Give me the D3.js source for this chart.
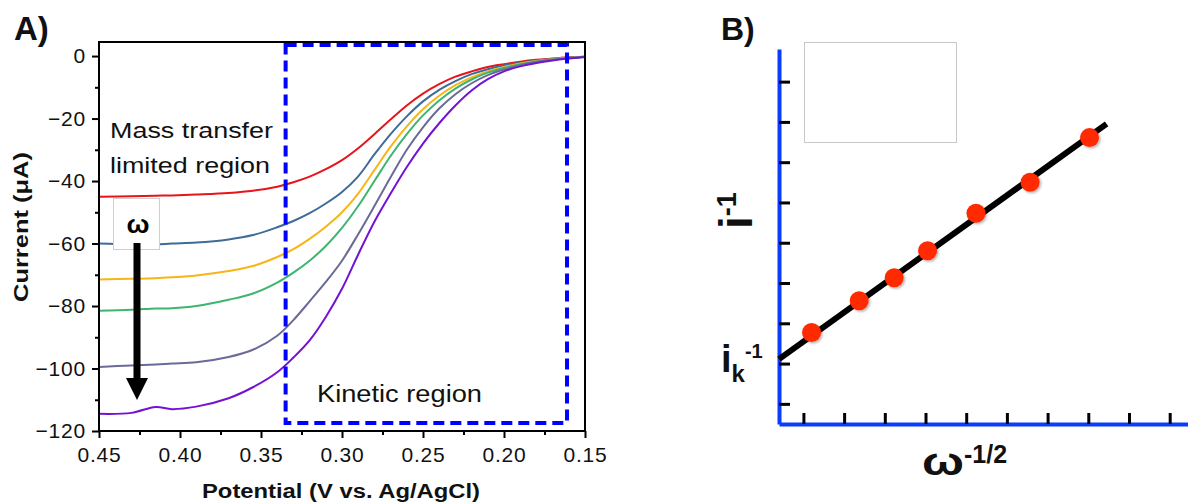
<!DOCTYPE html>
<html>
<head>
<meta charset="utf-8">
<script src="https://cdn.jsdelivr.net/npm/d3@7"></script>
<style>
  body { margin: 0; background: #fff; }
  text { font-family: "Liberation Sans", Arial, sans-serif; }
</style>
</head>
<body>
<svg id="chart" width="1188" height="504"></svg>
<script>
'use strict';

// Panel A: linear sweep voltammograms at increasing rotation rate
var potentials = [0.45, 0.43, 0.415, 0.405, 0.39, 0.37, 0.355, 0.34, 0.33, 0.32, 0.31, 0.30, 0.29,
  0.28, 0.27, 0.26, 0.25, 0.24, 0.23, 0.22, 0.21, 0.20, 0.19, 0.18, 0.17, 0.16, 0.15];

var currentRed = [-45, -44.9, -44.7, -44.6, -44.3, -43.8, -43.1, -41.8, -40.4, -38.6, -36.2, -33.3, -29.5,
  -25, -20.3, -15.8, -12, -9, -6.6, -4.9, -3.5, -2.6, -1.8, -1.2, -0.8, -0.4, -0.2];
var currentBlue = [-60, -60.2, -60.3, -60, -59.7, -58.7, -57.3, -54.8, -52.8, -50.3, -47.2, -43.5, -38.5,
  -31.5, -25, -19.3, -14.5, -10.8, -8, -5.8, -4.2, -3, -2.1, -1.4, -0.9, -0.5, -0.2];
var currentYellow = [-71.5, -71.3, -71.1, -70.8, -70.2, -68.8, -67.2, -64.3, -61.8, -58.5, -54.6, -50, -44,
  -36.5, -29, -22.5, -17, -12.7, -9.3, -6.8, -4.9, -3.5, -2.4, -1.6, -1, -0.6, -0.2];
var currentGreen = [-81.5, -81.2, -80.8, -80.7, -80, -78, -76, -72.5, -69.3, -65.5, -60.8, -55, -48,
  -40, -32, -25, -19, -14.2, -10.4, -7.5, -5.3, -3.8, -2.6, -1.7, -1.1, -0.6, -0.2];
var currentGray = [-99.5, -99, -98.7, -98.4, -98, -96.3, -94, -89.5, -84.5, -78.5, -72.3, -65.5, -57,
  -48, -38.8, -30, -22.8, -16.8, -12.2, -8.7, -6.1, -4.3, -2.9, -1.9, -1.2, -0.7, -0.3];
var currentPurple = [-114.5, -114.2, -112.3, -113, -112.2, -109.5, -106, -101.2, -96.5, -91, -83.5, -74.5, -63.5,
  -53, -44, -35.5, -28, -21.5, -15.8, -11, -7.4, -4.9, -3.3, -2.2, -1.4, -0.8, -0.3];

var seriesColors = ['#e8141c', '#3e6b97', '#f7b519', '#3fb46e', '#6a6a98', '#7412d4'];

var yMajorTicks = [0, -20, -40, -60, -80, -100, -120];
var yMinorTicks = [-10, -30, -50, -70, -90, -110];
var xMajorTicks = [0.45, 0.40, 0.35, 0.30, 0.25, 0.20, 0.15];
var xMinorTicks = [0.425, 0.375, 0.325, 0.275, 0.225, 0.175];

// kinetic region box: [potential from, potential to, current top, current bottom]
var kineticRegion = [0.3348, 0.1611, 3.55, -117.4];

// Panel B: Koutecky-Levich plot (arbitrary units)
var omegaInvSqrt = [0.2, 1.37, 2.23, 3.05, 4.24, 5.57, 7.03];
var inverseCurrent = [1.77, 2.56, 3.13, 3.80, 4.73, 5.50, 6.61];
var fitLineX = [-0.6, 7.45];
var fitLineY = [1.11, 6.95];
var bTicksX = [0, 1, 2, 3, 4, 5, 6, 7, 8, 9];
var bTicksY = [0, 1, 2, 3, 4, 5, 6, 7, 8];

var svg = d3.select('#chart');
svg.append('rect').attr('width', 1188).attr('height', 504).attr('fill', '#fff');

var defs = svg.append('defs');
defs.append('clipPath').attr('id', 'clipA')
  .append('rect').attr('x', 99).attr('y', 42).attr('width', 486).attr('height', 389);
defs.append('filter').attr('id', 'dotShadow')
  .attr('x', '-50%').attr('y', '-50%').attr('width', '200%').attr('height', '200%')
  .append('feDropShadow')
  .attr('dx', 1.5).attr('dy', 1.5).attr('stdDeviation', 1)
  .attr('flood-color', '#000').attr('flood-opacity', 0.3);

// ---------- Panel A ----------
var ax = d3.scaleLinear().domain([0.45, 0.15]).range([99, 585]);
var ay = d3.scaleLinear().domain([-120, 4.5]).range([431, 42]);

var panelA = svg.append('g');

function styleAxis(g) {
  g.select('.domain').remove();
  g.selectAll('line').attr('stroke', '#000').attr('stroke-width', 2);
  g.selectAll('text')
    .attr('fill', '#111')
    .attr('font-size', 21)
    .attr('letter-spacing', 0.8)
    .attr('font-family', '"Liberation Sans", Arial, sans-serif');
}

panelA.append('g')
  .attr('transform', 'translate(99,0)')
  .call(d3.axisLeft(ay).tickValues(yMajorTicks).tickSize(7).tickPadding(6).tickFormat(d3.format('d')))
  .call(styleAxis);
panelA.append('g')
  .attr('transform', 'translate(99,0)')
  .call(d3.axisLeft(ay).tickValues(yMinorTicks).tickSize(4).tickFormat(''))
  .call(styleAxis);
panelA.append('g')
  .attr('transform', 'translate(0,431)')
  .call(d3.axisBottom(ax).tickValues(xMajorTicks).tickSize(7).tickPadding(9).tickFormat(d3.format('.2f')))
  .call(styleAxis);
panelA.append('g')
  .attr('transform', 'translate(0,431)')
  .call(d3.axisBottom(ax).tickValues(xMinorTicks).tickSize(4).tickFormat(''))
  .call(styleAxis);

var seriesList = [currentRed, currentBlue, currentYellow, currentGreen, currentGray, currentPurple];

var line = d3.line()
  .x(function(d) { return ax(d[0]); })
  .y(function(d) { return ay(d[1]); })
  .curve(d3.curveCatmullRom.alpha(0.5));

panelA.append('g')
  .attr('clip-path', 'url(#clipA)')
  .selectAll('path')
  .data(seriesList)
  .enter()
  .append('path')
  .attr('d', function(values) { return line(d3.zip(potentials, values)); })
  .attr('fill', 'none')
  .attr('stroke', function(d, i) { return seriesColors[i]; })
  .attr('stroke-width', 2)
  .attr('stroke-linejoin', 'round');

panelA.append('rect')
  .attr('x', 99).attr('y', 42).attr('width', 486).attr('height', 389)
  .attr('fill', 'none').attr('stroke', '#000').attr('stroke-width', 2);

panelA.append('rect')
  .attr('x', ax(kineticRegion[0]))
  .attr('y', ay(kineticRegion[2]))
  .attr('width', ax(kineticRegion[1]) - ax(kineticRegion[0]))
  .attr('height', ay(kineticRegion[3]) - ay(kineticRegion[2]))
  .attr('fill', 'none')
  .attr('stroke', '#0000ff')
  .attr('stroke-width', 4)
  .attr('stroke-dasharray', '11,6');

panelA.append('text').attr('x', 110).attr('y', 138)
  .attr('font-size', 22).attr('fill', '#111')
  .attr('textLength', 163).attr('lengthAdjust', 'spacingAndGlyphs')
  .text('Mass transfer');
panelA.append('text').attr('x', 110).attr('y', 173)
  .attr('font-size', 22).attr('fill', '#111')
  .attr('textLength', 160).attr('lengthAdjust', 'spacingAndGlyphs')
  .text('limited region');
panelA.append('text').attr('x', 317).attr('y', 402)
  .attr('font-size', 23).attr('fill', '#111')
  .attr('textLength', 165).attr('lengthAdjust', 'spacingAndGlyphs')
  .text('Kinetic region');

// rotation rate arrow
panelA.append('rect')
  .attr('x', 113.5).attr('y', 198.5).attr('width', 46).attr('height', 51)
  .attr('fill', '#fff').attr('stroke', '#cfcfcf').attr('stroke-width', 1);
panelA.append('text').attr('x', 138).attr('y', 233)
  .attr('text-anchor', 'middle').attr('font-size', 26).attr('font-weight', 'bold')
  .attr('textLength', 23).attr('lengthAdjust', 'spacingAndGlyphs')
  .text('ω');
panelA.append('rect')
  .attr('x', 133.5).attr('y', 243).attr('width', 7).attr('height', 138).attr('fill', '#000');
panelA.append('path')
  .attr('d', 'M126,378 L148,378 L137,400 Z').attr('fill', '#000');

panelA.append('text')
  .attr('transform', 'translate(28,227) rotate(-90)')
  .attr('text-anchor', 'middle').attr('font-size', 20).attr('font-weight', 'bold').attr('fill', '#111')
  .attr('textLength', 150).attr('lengthAdjust', 'spacingAndGlyphs')
  .text('Current (μA)');
panelA.append('text')
  .attr('x', 341).attr('y', 498)
  .attr('text-anchor', 'middle').attr('font-size', 20).attr('font-weight', 'bold').attr('fill', '#111')
  .attr('textLength', 278).attr('lengthAdjust', 'spacingAndGlyphs')
  .text('Potential (V vs. Ag/AgCl)');

svg.append('text').attr('x', 14).attr('y', 40)
  .attr('font-size', 33).attr('font-weight', 'bold').attr('fill', '#111')
  .text('A)');

// ---------- Panel B ----------
var bx = d3.scaleLinear().domain([-0.6, 9.45]).range([779, 1188]);
var by = d3.scaleLinear().domain([-0.5, 8.81]).range([424, 49]);

var panelB = svg.append('g');
var axisBlue = '#0a3cff';

function styleBAxis(g) {
  g.select('.domain').attr('stroke', axisBlue).attr('stroke-width', 4);
  g.selectAll('.tick line').attr('stroke', '#000').attr('stroke-width', 3);
  g.selectAll('.tick text').remove();
}

panelB.append('g')
  .attr('transform', 'translate(0,424)')
  .call(d3.axisBottom(bx).tickValues(bTicksX).tickSizeInner(-11).tickSizeOuter(0).tickFormat(''))
  .call(styleBAxis);
panelB.append('g')
  .attr('transform', 'translate(779,0)')
  .call(d3.axisLeft(by).tickValues(bTicksY).tickSizeInner(-11).tickSizeOuter(0).tickFormat(''))
  .call(styleBAxis);

panelB.append('line')
  .attr('x1', bx(fitLineX[0])).attr('y1', by(fitLineY[0]))
  .attr('x2', bx(fitLineX[1])).attr('y2', by(fitLineY[1]))
  .attr('stroke', '#000').attr('stroke-width', 6);

panelB.append('g')
  .selectAll('circle')
  .data(d3.zip(omegaInvSqrt, inverseCurrent))
  .enter()
  .append('circle')
  .attr('cx', function(d) { return bx(d[0]); })
  .attr('cy', function(d) { return by(d[1]); })
  .attr('r', 9.5)
  .attr('fill', '#ff2b06')
  .attr('filter', 'url(#dotShadow)');

// empty legend frame
panelB.append('rect')
  .attr('x', 804.5).attr('y', 42.5).attr('width', 152).attr('height', 100)
  .attr('fill', 'none').attr('stroke', '#c8c8c8').attr('stroke-width', 1);

svg.append('text').attr('x', 721).attr('y', 40)
  .attr('font-size', 32).attr('font-weight', 'bold').attr('fill', '#111')
  .text('B)');

var iLabel = panelB.append('text')
  .attr('transform', 'translate(752,229) rotate(-90)')
  .attr('font-size', 46).attr('font-weight', 'bold').attr('fill', '#111');
iLabel.append('tspan').text('i');
iLabel.append('tspan').attr('font-size', 27).attr('dy', -16).text('-1');

var ikLabel = panelB.append('text')
  .attr('x', 721).attr('y', 372)
  .attr('font-size', 38).attr('font-weight', 'bold').attr('fill', '#111');
ikLabel.append('tspan').text('i');
ikLabel.append('tspan').attr('font-size', 24).attr('dy', 10).text('k');
ikLabel.append('tspan').attr('font-size', 20).attr('dy', -24).text('-1');

var wLabel = panelB.append('text')
  .attr('x', 922).attr('y', 475)
  .attr('font-size', 38).attr('font-weight', 'bold').attr('fill', '#111');
wLabel.append('tspan').attr('textLength', 42).attr('lengthAdjust', 'spacingAndGlyphs').text('ω');
wLabel.append('tspan').attr('font-size', 25).attr('dy', -12).text('-1/2');
</script>
</body>
</html>
